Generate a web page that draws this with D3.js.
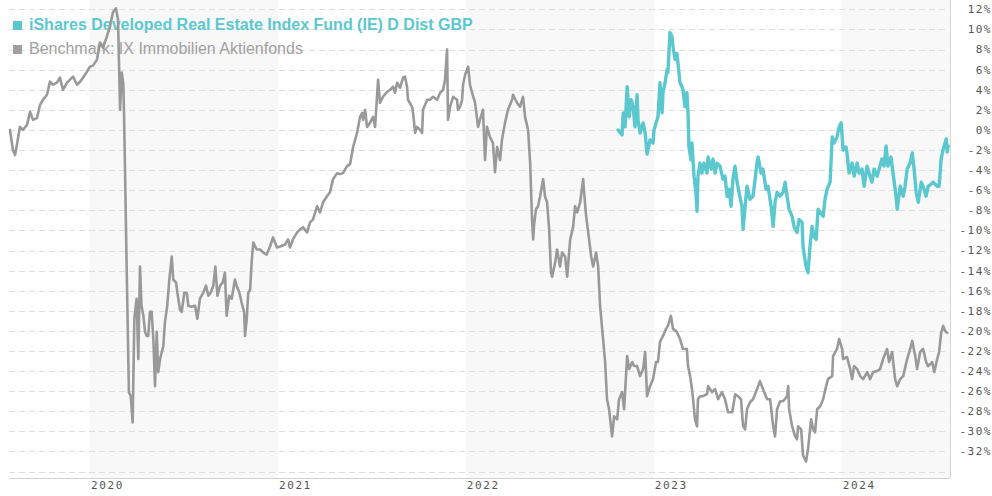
<!DOCTYPE html>
<html>
<head>
<meta charset="utf-8">
<script src="https://cdn.jsdelivr.net/npm/d3@7"></script>
<style>
  html, body { margin: 0; padding: 0; background: #fff; }
  svg { display: block; }
</style>
</head>
<body>
<svg id="chart" width="992" height="496"></svg>
<script>
// ---- DATA (dates as fractional years, values in %) ----
const seriesNames = ["iShares Developed Real Estate Index Fund (IE) D Dist GBP", "Benchmark: IX Immobilien Aktienfonds"];
const yearTicks = [2020, 2021, 2022, 2023, 2024];
const yTicks = [12, 10, 8, 6, 4, 2, 0, -2, -4, -6, -8, -10, -12, -14, -16, -18, -20, -22, -24, -26, -28, -30, -32];
const gridValues = [12, 10, 8, 6, 4, 2, 0, -2, -4, -6, -8, -10, -12, -14, -16, -18, -20, -22, -24, -26, -28, -30, -32, -34];

const benchDates = [
 2019.574,2019.590,2019.601,2019.611,2019.627,2019.643,2019.665,2019.681,2019.697,2019.718,
 2019.734,2019.750,2019.771,2019.787,2019.803,2019.824,2019.840,2019.856,2019.878,2019.894,
 2019.910,2019.931,2019.947,2019.963,2019.984,2020.000,2020.016,2020.037,2020.053,2020.069,
 2020.090,2020.106,2020.122,2020.138,2020.149,2020.160,2020.169,2020.177,2020.181,2020.186,
 2020.195,2020.207,2020.217,2020.227,2020.236,2020.248,2020.257,2020.266,2020.274,2020.284,
 2020.293,2020.301,2020.310,2020.319,2020.328,2020.337,2020.346,2020.355,2020.363,2020.373,
 2020.390,2020.399,2020.411,2020.422,2020.435,2020.443,2020.458,2020.465,2020.479,2020.488,
 2020.502,2020.515,2020.523,2020.541,2020.559,2020.571,2020.585,2020.603,2020.617,2020.630,
 2020.642,2020.656,2020.667,2020.678,2020.692,2020.706,2020.718,2020.727,2020.741,2020.754,
 2020.771,2020.780,2020.795,2020.807,2020.820,2020.825,2020.834,2020.842,2020.852,2020.861,
 2020.869,2020.887,2020.905,2020.922,2020.940,2020.958,2020.974,2020.995,2021.011,2021.038,
 2021.054,2021.064,2021.080,2021.102,2021.118,2021.134,2021.155,2021.171,2021.187,2021.208,
 2021.224,2021.240,2021.261,2021.277,2021.293,2021.315,2021.331,2021.346,2021.368,2021.384,
 2021.400,2021.421,2021.437,2021.448,2021.453,2021.464,2021.474,2021.490,2021.506,2021.517,
 2021.527,2021.533,2021.543,2021.559,2021.581,2021.597,2021.613,2021.623,2021.634,2021.650,
 2021.666,2021.676,2021.687,2021.692,2021.714,2021.719,2021.730,2021.740,2021.756,2021.767,
 2021.772,2021.794,2021.809,2021.825,2021.847,2021.863,2021.879,2021.889,2021.900,2021.905,
 2021.916,2021.932,2021.953,2021.958,2021.969,2021.980,2021.985,2021.996,2022.012,2022.022,
 2022.033,2022.049,2022.065,2022.075,2022.091,2022.102,2022.112,2022.128,2022.144,2022.155,
 2022.166,2022.182,2022.192,2022.208,2022.224,2022.246,2022.251,2022.272,2022.288,2022.304,
 2022.315,2022.331,2022.342,2022.352,2022.358,2022.363,2022.373,2022.384,2022.395,2022.411,
 2022.421,2022.432,2022.443,2022.453,2022.459,2022.475,2022.485,2022.501,2022.512,2022.528,
 2022.539,2022.555,2022.571,2022.581,2022.592,2022.608,2022.624,2022.629,2022.640,2022.651,
 2022.667,2022.677,2022.693,2022.704,2022.714,2022.730,2022.741,2022.751,2022.762,2022.778,
 2022.789,2022.805,2022.815,2022.831,2022.842,2022.858,2022.869,2022.885,2022.895,2022.911,
 2022.927,2022.943,2022.954,2022.964,2022.980,2022.996,2023.012,2023.022,2023.033,2023.049,
 2023.065,2023.075,2023.091,2023.102,2023.123,2023.139,2023.155,2023.176,2023.182,2023.193,
 2023.203,2023.209,2023.219,2023.230,2023.235,2023.246,2023.262,2023.283,2023.289,2023.310,
 2023.326,2023.342,2023.363,2023.379,2023.395,2023.417,2023.433,2023.448,2023.464,2023.475,
 2023.486,2023.496,2023.512,2023.528,2023.549,2023.565,2023.581,2023.603,2023.619,2023.635,
 2023.645,2023.656,2023.672,2023.688,2023.709,2023.715,2023.720,2023.736,2023.752,2023.762,
 2023.768,2023.784,2023.794,2023.810,2023.821,2023.837,2023.848,2023.858,2023.869,2023.885,
 2023.901,2023.917,2023.927,2023.949,2023.954,2023.975,2023.986,2024.002,2024.007,2024.028,
 2024.045,2024.055,2024.066,2024.082,2024.098,2024.114,2024.135,2024.151,2024.167,2024.188,
 2024.204,2024.220,2024.241,2024.252,2024.268,2024.284,2024.295,2024.311,2024.327,2024.348,
 2024.364,2024.375,2024.391,2024.401,2024.417,2024.433,2024.449,2024.460,2024.481,2024.492,
 2024.508,2024.518,2024.529,2024.540,2024.550,2024.561
];
const benchValues = [
 0.0,-2.0,-2.5,-1.5,0.3,0.0,0.5,1.8,1.0,1.2,
 2.5,3.0,3.5,4.8,4.5,4.7,5.2,4.0,4.7,5.0,
 5.3,4.5,4.8,5.2,5.8,6.3,6.4,7.0,8.7,8.2,
 9.3,10.3,11.7,12.1,11.0,2.0,5.7,4.7,1.7,-3.6,
 -13.6,-26.1,-26.5,-29.1,-18.8,-16.8,-22.8,-13.6,-17.5,-18.5,
 -20.1,-20.5,-20.5,-18.1,-18.1,-20.8,-25.5,-20.1,-24.1,-22.8,
 -21.5,-19.1,-17.5,-14.9,-12.6,-14.9,-15.2,-16.2,-17.9,-18.1,
 -16.2,-16.2,-17.5,-17.6,-17.5,-18.8,-16.8,-16.2,-15.5,-16.5,
 -16.2,-15.5,-13.6,-16.5,-15.5,-15.2,-14.2,-18.5,-16.5,-16.8,
 -14.9,-15.5,-16.2,-17.2,-18.1,-20.5,-18.8,-16.2,-15.9,-12.9,
 -11.2,-11.9,-11.9,-12.2,-12.4,-11.6,-10.7,-11.7,-11.6,-11.4,
 -10.9,-11.7,-10.9,-10.2,-9.9,-9.7,-10.2,-9.2,-8.9,-7.6,
 -8.2,-7.2,-6.6,-6.2,-4.9,-4.3,-4.4,-4.3,-3.6,-3.4,
 -1.7,-0.3,1.3,1.7,1.0,2.0,0.3,0.7,1.3,0.3,
 3.3,5.0,2.7,3.3,3.8,4.0,4.3,3.7,4.7,4.2,
 5.2,5.3,4.3,3.0,2.3,1.7,-0.3,0.3,0.0,-0.3,
 2.0,3.0,3.0,3.3,3.0,3.7,4.0,5.0,8.0,1.0,
 2.3,3.3,3.0,2.0,2.3,3.0,4.5,5.5,6.3,4.5,
 3.7,2.7,0.3,1.0,2.0,-3.0,0.3,-0.7,-1.3,-4.2,
 -1.7,-3.0,-1.0,0.7,2.0,3.0,3.5,2.7,2.3,3.3,
 1.3,0.0,-3.3,-8.9,-10.9,-9.4,-7.9,-7.6,-6.6,-4.9,
 -6.6,-7.2,-9.9,-14.2,-14.6,-13.2,-11.9,-13.6,-12.2,-12.6,
 -14.6,-10.9,-9.6,-7.6,-8.2,-7.2,-4.9,-6.2,-8.6,-10.2,
 -12.6,-13.6,-12.2,-13.6,-17.5,-20.8,-23.1,-26.8,-27.8,-30.5,
 -28.5,-28.8,-26.8,-26.1,-27.8,-22.5,-23.8,-23.1,-23.5,-23.5,
 -24.5,-23.8,-22.1,-26.5,-25.5,-24.8,-23.1,-23.1,-21.1,-20.5,
 -19.8,-19.5,-18.5,-19.8,-20.1,-20.8,-21.8,-21.8,-23.5,-24.5,
 -25.8,-26.8,-28.8,-29.5,-26.8,-26.5,-26.5,-26.3,-25.5,-26.1,
 -25.8,-26.8,-26.1,-26.8,-28.1,-28.1,-26.3,-26.5,-26.8,-29.5,
 -29.8,-27.8,-27.1,-26.8,-25.8,-25.0,-25.8,-26.8,-26.8,-29.5,
 -30.5,-27.8,-27.0,-27.0,-26.5,-25.5,-27.8,-29.5,-30.5,-30.8,
 -29.5,-29.8,-32.4,-33.0,-31.7,-28.8,-29.8,-30.1,-27.8,-27.5,
 -26.8,-25.5,-24.8,-24.5,-22.5,-21.8,-20.8,-21.8,-22.8,-22.6,
 -23.8,-24.8,-23.5,-23.8,-24.5,-24.8,-24.1,-24.8,-24.1,-24.0,
 -23.8,-22.8,-21.8,-23.1,-22.1,-24.8,-25.5,-24.8,-24.5,-22.8,
 -21.8,-21.0,-22.5,-23.8,-22.1,-21.8,-23.1,-23.5,-23.1,-24.1,
 -22.8,-22.1,-20.2,-19.5,-20.0,-20.2
];

const fundDates = [
 2022.810,2022.831,2022.837,2022.847,2022.858,2022.869,2022.879,2022.890,2022.900,2022.911,
 2022.916,2022.927,2022.943,2022.954,2022.964,2022.980,2022.996,2023.001,2023.017,2023.022,
 2023.033,2023.044,2023.049,2023.060,2023.070,2023.075,2023.086,2023.097,2023.102,2023.113,
 2023.123,2023.129,2023.139,2023.150,2023.155,2023.166,2023.176,2023.182,2023.187,2023.198,
 2023.203,2023.214,2023.224,2023.230,2023.235,2023.246,2023.256,2023.267,2023.283,2023.289,
 2023.305,2023.315,2023.326,2023.337,2023.352,2023.368,2023.379,2023.390,2023.400,2023.411,
 2023.421,2023.432,2023.443,2023.453,2023.469,2023.475,2023.486,2023.496,2023.512,2023.528,
 2023.539,2023.549,2023.555,2023.571,2023.581,2023.597,2023.608,2023.624,2023.635,2023.645,
 2023.656,2023.672,2023.688,2023.699,2023.709,2023.720,2023.736,2023.746,2023.762,2023.773,
 2023.789,2023.794,2023.810,2023.821,2023.831,2023.842,2023.853,2023.864,2023.874,2023.885,
 2023.901,2023.911,2023.922,2023.938,2023.949,2023.959,2023.975,2023.986,2023.997,2024.007,
 2024.023,2024.028,2024.039,2024.055,2024.066,2024.082,2024.092,2024.108,2024.119,2024.135,
 2024.145,2024.161,2024.172,2024.188,2024.199,2024.214,2024.225,2024.236,2024.246,2024.262,
 2024.273,2024.289,2024.295,2024.311,2024.327,2024.337,2024.348,2024.364,2024.375,2024.385,
 2024.396,2024.407,2024.423,2024.433,2024.449,2024.460,2024.476,2024.486,2024.508,2024.518,
 2024.529,2024.540,2024.556,2024.561,2024.566
];
const fundValues = [
 0.0,-0.5,1.7,0.3,4.3,1.3,3.0,2.3,0.3,3.5,
 1.0,-0.3,0.7,-0.3,-2.4,-1.0,-1.3,0.0,1.0,1.3,
 4.7,1.7,3.7,4.7,6.0,5.7,9.7,9.3,8.3,7.0,
 7.6,6.6,4.7,4.3,4.0,2.3,3.7,1.7,-1.7,-3.0,
 -1.3,-4.6,-6.2,-8.1,-4.6,-3.3,-4.3,-3.3,-4.3,-2.7,
 -3.9,-2.9,-4.3,-3.3,-3.6,-4.9,-4.6,-6.6,-5.9,-7.6,
 -4.9,-3.6,-5.2,-6.2,-7.6,-9.9,-7.6,-5.6,-6.9,-6.6,
 -4.9,-3.3,-2.7,-4.3,-3.9,-5.9,-5.6,-7.6,-9.6,-7.2,
 -6.2,-6.6,-6.2,-5.2,-6.6,-7.9,-8.6,-9.6,-10.2,-8.9,
 -9.2,-11.6,-13.6,-14.2,-11.6,-9.6,-10.6,-10.9,-7.9,-8.2,
 -8.6,-6.9,-5.9,-5.2,-0.7,-1.3,-0.7,0.3,0.7,-2.0,
 -1.7,-2.3,-4.3,-3.3,-4.6,-3.3,-4.3,-3.9,-5.6,-3.6,
 -4.3,-5.2,-3.9,-4.6,-3.9,-2.9,-3.6,-1.6,-3.6,-2.7,
 -4.3,-6.6,-7.9,-5.6,-6.6,-5.6,-3.9,-3.3,-2.3,-3.9,
 -6.2,-7.2,-5.2,-5.6,-6.6,-5.6,-5.4,-5.2,-5.6,-5.6,
 -2.9,-1.9,-0.9,-2.2,-1.6
];

// ---- CHART ----
const plot = { left: 9, right: 950, top: 0, bottom: 478 };
const colorFund = "#5bc8cf";
const colorBench = "#999999";

const svg = d3.select("#chart");
const x = d3.scaleLinear().domain([2019.569, 2024.576]).range([plot.left, plot.right]);
const y = d3.scaleLinear().domain([-34.64, 12.93]).range([plot.bottom, plot.top]);

// alternating year bands
const bandStarts = [2020, 2022, 2024];
svg.append("g").selectAll("rect").data(bandStarts).join("rect")
  .attr("x", d => x(d))
  .attr("y", plot.top)
  .attr("width", d => Math.min(x(d + 1), plot.right) - x(d))
  .attr("height", plot.bottom - plot.top)
  .attr("fill", "#f8f8f8");

// horizontal dashed gridlines
svg.append("g").selectAll("line").data(gridValues).join("line")
  .attr("x1", plot.left).attr("x2", plot.right - 3)
  .attr("y1", d => Math.round(y(d)) + 0.5).attr("y2", d => Math.round(y(d)) + 0.5)
  .attr("stroke", "#dedede").attr("stroke-width", 1)
  .attr("stroke-dasharray", "6,4");

// right border
svg.append("line")
  .attr("x1", plot.right + 0.5).attr("x2", plot.right + 0.5)
  .attr("y1", plot.top).attr("y2", plot.bottom)
  .attr("stroke", "#d6d6d6");

// bottom axis line
svg.append("line")
  .attr("x1", plot.left).attr("x2", plot.right)
  .attr("y1", plot.bottom + 0.5).attr("y2", plot.bottom + 0.5)
  .attr("stroke", "#d0d0d0");

// y tick labels (right side)
svg.append("g").selectAll("text").data(yTicks).join("text")
  .attr("x", 992)
  .attr("y", d => y(d))
  .attr("dy", "0.36em")
  .attr("text-anchor", "end")
  .attr("font-family", "DejaVu Sans Mono, monospace")
  .attr("font-size", 11)
  .attr("letter-spacing", 1.5)
  .attr("fill", "#555")
  .text(d => d + "%");

// x year labels
svg.append("g").selectAll("text").data(yearTicks).join("text")
  .attr("x", d => x(d) + 1)
  .attr("y", 489)
  .attr("text-anchor", "start")
  .attr("font-family", "DejaVu Sans Mono, monospace")
  .attr("font-size", 11)
  .attr("letter-spacing", 1.6)
  .attr("fill", "#555")
  .text(d => d);

// lines
const benchData = benchDates.map((d, i) => [d, benchValues[i]]);
const fundData = fundDates.map((d, i) => [d, fundValues[i]]);
const line = d3.line().x(d => x(d[0])).y(d => y(d[1]));

// legend (under lines)
const legend = svg.append("g");
const legendItems = [
  { name: seriesNames[0], color: colorFund, weight: "bold", base: 30 },
  { name: seriesNames[1], color: "#a0a0a0", weight: "normal", base: 54 }
];
legend.selectAll("rect").data(legendItems).join("rect")
  .attr("x", 13).attr("y", d => d.base - 9)
  .attr("width", 9).attr("height", 9)
  .attr("fill", d => d.color);
legend.selectAll("text").data(legendItems).join("text")
  .attr("x", 29).attr("y", d => d.base)
  .attr("font-family", "Liberation Sans, Arial, sans-serif")
  .attr("font-size", 16)
  .attr("font-weight", d => d.weight)
  .attr("fill", d => d.color)
  .text(d => d.name);

svg.append("path").datum(benchData)
  .attr("d", line)
  .attr("fill", "none")
  .attr("stroke", colorBench)
  .attr("stroke-width", 2.6)
  .attr("stroke-linejoin", "round")
  .attr("stroke-linecap", "round");

svg.append("path").datum(fundData)
  .attr("d", line)
  .attr("fill", "none")
  .attr("stroke", colorFund)
  .attr("stroke-width", 3.4)
  .attr("stroke-linejoin", "round")
  .attr("stroke-linecap", "round");
</script>
</body>
</html>
